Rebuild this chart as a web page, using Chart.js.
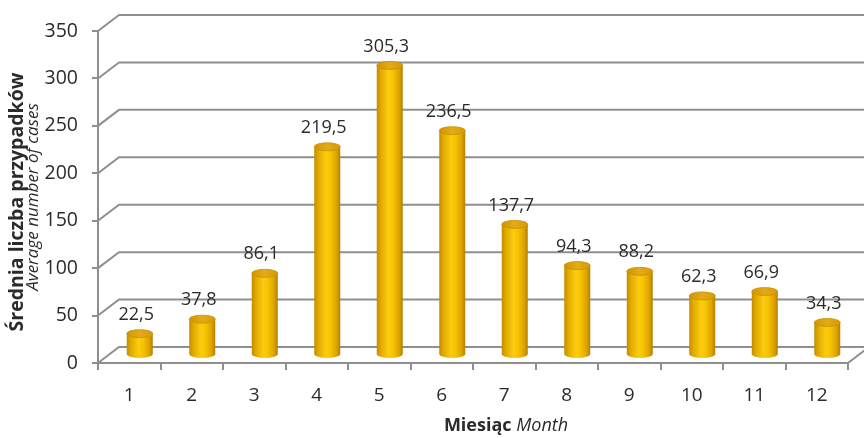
<!DOCTYPE html>
<html>
<head>
<meta charset="utf-8">
<script src="https://cdn.jsdelivr.net/npm/chart.js@4"></script>
<style>
  html, body { margin: 0; padding: 0; background: #ffffff; }
  #wrap { width: 864px; height: 438px; }
</style>
</head>
<body>
<div id="wrap"><canvas id="c" width="864" height="438"></canvas></div>
<script>
// Monthly average number of cases
const months = ['1', '2', '3', '4', '5', '6', '7', '8', '9', '10', '11', '12'];
const cases = [22.5, 37.8, 86.1, 219.5, 305.3, 236.5, 137.7, 94.3, 88.2, 62.3, 66.9, 34.3];
const yTickValues = [0, 50, 100, 150, 200, 250, 300, 350];

const xTitleBold = 'Miesiąc';
const xTitleItalic = 'Month';
const yTitleBold = 'Średnia liczba przypadków';
const yTitleItalic = 'Average number of cases';

const FONT = "'Open Sans', 'DejaVu Sans', sans-serif";
const GRID = '#8f8f8f';
const TEXT = '#2b2b2b';
// depth of the 3D box (back wall offset relative to the front axes)
const DX = 21, DY = -16;

const fmt = v => v.toFixed(1).replace('.', ',');

// back wall gridlines, side diagonals and floor edge
const depthFrame = {
  id: 'depthFrame',
  beforeDatasetsDraw(chart) {
    const { ctx, chartArea, scales } = chart;
    const ys = scales.y;
    ctx.save();
    ctx.strokeStyle = GRID;
    ctx.lineWidth = 2;
    ctx.lineCap = 'butt';
    yTickValues.forEach(v => {
      const y = ys.getPixelForValue(v);
      ctx.beginPath();
      ctx.moveTo(chartArea.left, y);
      ctx.lineTo(chartArea.left + DX, y + DY);
      ctx.lineTo(chart.width + 10, y + DY);
      ctx.stroke();
    });
    const y0 = ys.getPixelForValue(0);
    ctx.beginPath();
    ctx.moveTo(chartArea.right, y0);
    ctx.lineTo(chartArea.right + DX, y0 + DY);
    ctx.stroke();
    ctx.restore();
  }
};

// cylinders, drawn half-way into the box depth, plus value labels
const cylinders = {
  id: 'cylinders',
  afterDatasetsDraw(chart) {
    const { ctx } = chart;
    const meta = chart.getDatasetMeta(0);
    const data = chart.data.datasets[0].data;
    ctx.save();
    meta.data.forEach((el, i) => {
      const cx = el.x + DX / 2;
      const top = el.y + DY / 2;
      const base = el.base + DY / 2;
      const w = el.width;
      const rx = w / 2, ry = 4;
      const x0 = cx - rx, x1 = cx + rx;

      const g = ctx.createLinearGradient(x0, 0, x1, 0);
      g.addColorStop(0, '#c48b00');
      g.addColorStop(0.15, '#e0a900');
      g.addColorStop(0.45, '#fccc10');
      g.addColorStop(0.62, '#f7c400');
      g.addColorStop(0.86, '#dda300');
      g.addColorStop(1, '#b57e00');

      // body
      ctx.fillStyle = g;
      ctx.fillRect(x0, top, w, base - top);
      // bottom cap
      ctx.beginPath();
      ctx.ellipse(cx, base, rx, ry, 0, 0, Math.PI);
      ctx.fill();
      // top cap
      const gt = ctx.createLinearGradient(x0, 0, x1, 0);
      gt.addColorStop(0, '#cf9600');
      gt.addColorStop(0.5, '#e4ab18');
      gt.addColorStop(1, '#d49a08');
      ctx.beginPath();
      ctx.ellipse(cx, top, rx, ry, 0, 0, Math.PI * 2);
      ctx.fillStyle = gt;
      ctx.fill();
      ctx.lineWidth = 0.8;
      ctx.strokeStyle = '#c99000';
      ctx.stroke();

      // value label
      ctx.fillStyle = TEXT;
      ctx.font = `18px ${FONT}`;
      ctx.textAlign = 'center';
      ctx.textBaseline = 'middle';
      ctx.fillText(fmt(data[i]), el.x + 7, top - 19);
    });
    ctx.restore();
  }
};

// axis titles with mixed bold / italic runs
const axisTitles = {
  id: 'axisTitles',
  afterDraw(chart) {
    const { ctx } = chart;
    ctx.save();
    ctx.fillStyle = TEXT;
    ctx.textBaseline = 'middle';

    // x title
    const boldF = `bold 18px ${FONT}`;
    const italF = `italic 18px ${FONT}`;
    ctx.font = boldF;
    const wb = ctx.measureText(xTitleBold + ' ').width;
    ctx.font = italF;
    const wi = ctx.measureText(xTitleItalic).width;
    let x = 506 - (wb + wi) / 2;
    ctx.textAlign = 'left';
    ctx.font = boldF;
    ctx.fillText(xTitleBold, x, 426);
    ctx.font = italF;
    ctx.fillText(xTitleItalic, x + wb, 426);

    // y title (two stacked lines, rotated)
    ctx.textAlign = 'center';
    ctx.save();
    ctx.translate(17, 202);
    ctx.rotate(-Math.PI / 2);
    ctx.font = `bold 19.5px ${FONT}`;
    ctx.fillText(yTitleBold, 0, 0);
    ctx.restore();
    ctx.save();
    ctx.translate(33, 197);
    ctx.rotate(-Math.PI / 2);
    ctx.font = `italic 17px ${FONT}`;
    ctx.fillText(yTitleItalic, 0, 0);
    ctx.restore();

    ctx.restore();
  }
};

new Chart(document.getElementById('c'), {
  type: 'bar',
  data: {
    labels: months,
    datasets: [{
      data: cases,
      backgroundColor: 'rgba(0,0,0,0)',
      borderWidth: 0,
      categoryPercentage: 1,
      barPercentage: 0.416
    }]
  },
  options: {
    responsive: false,
    animation: false,
    devicePixelRatio: 1,
    layout: { padding: { top: 31, right: 16, left: 0, bottom: 0 } },
    plugins: {
      legend: { display: false },
      tooltip: { enabled: false }
    },
    scales: {
      x: {
        type: 'category',
        offset: true,
        grid: { drawOnChartArea: false, offset: true, tickLength: 7, color: GRID, lineWidth: 2 },
        border: { display: true, color: GRID, width: 2 },
        ticks: { color: TEXT, font: { family: FONT, size: 19 }, padding: 14, maxRotation: 0 },
        afterFit(s) { s.height = 75; }
      },
      y: {
        min: 0,
        max: 350,
        afterBuildTicks(s) { s.ticks = yTickValues.map(v => ({ value: v })); },
        grid: { drawOnChartArea: false, tickLength: 6, color: GRID, lineWidth: 2 },
        border: { display: true, color: GRID, width: 2 },
        ticks: { color: TEXT, font: { family: FONT, size: 19.5 }, padding: 14 },
        afterFit(s) { s.width = 98; }
      }
    }
  },
  plugins: [depthFrame, cylinders, axisTitles]
});
</script>
</body>
</html>
